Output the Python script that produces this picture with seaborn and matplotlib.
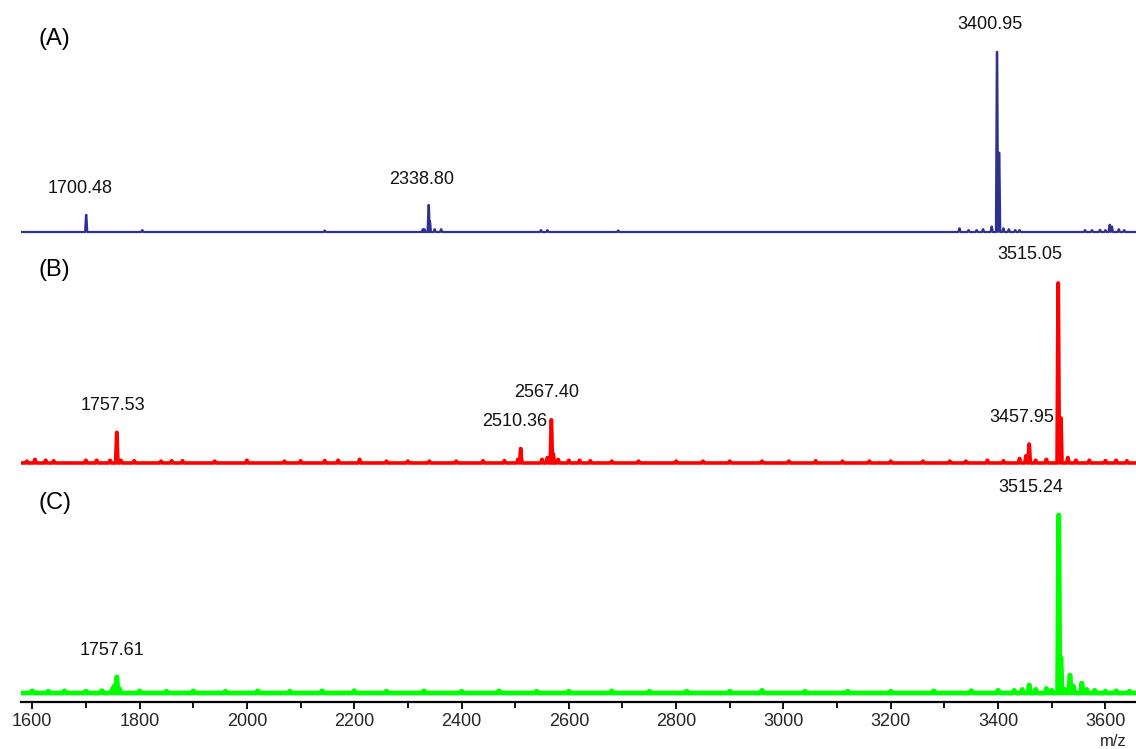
import numpy as np
import pandas as pd
import matplotlib
matplotlib.use("Agg")
import matplotlib.pyplot as plt
import seaborn as sns

# ---------------- data (m/z, relative intensity %) ----------------
a_mz = [1700.48, 1805, 2145, 2328, 2331, 2338.8, 2341, 2350, 2362, 2548, 2560, 2692,
        3328, 3345, 3360, 3372, 3388, 3398, 3402, 3410, 3420, 3432, 3440,
        3562, 3575, 3590, 3600, 3608, 3612, 3625, 3635]
a_int = [9.5, 1.0, 0.8, 1.5, 1.5, 15, 6, 1.5, 1.5, 1.0, 1.0, 0.8,
         2.0, 1.0, 1.0, 1.5, 3.0, 100, 44, 2.0, 1.5, 1.0, 1.0,
         1.0, 1.0, 1.2, 1.0, 4.0, 3.0, 1.5, 1.0]

b_mz = [1590, 1605, 1625, 1640, 1700, 1720, 1745, 1757.53, 1765, 1790, 1840, 1860, 1880,
        1940, 2000, 2070, 2100, 2145, 2170, 2210, 2260, 2300, 2340, 2390, 2440, 2480,
        2505, 2510.36, 2550, 2560, 2567.4, 2571, 2580, 2600, 2620, 2640, 2680, 2730,
        2800, 2850, 2900, 2960, 3010, 3060, 3110, 3160, 3200, 3260, 3310, 3340, 3380,
        3410, 3440, 3452, 3457.95, 3470, 3490, 3512, 3517, 3530, 3545, 3570, 3600,
        3620, 3640]
b_int = [1.0, 2.0, 1.5, 1.2, 1.5, 1.5, 1.5, 17, 1.5, 1.2, 1.0, 1.2, 1.2,
         1.0, 1.5, 1.0, 1.2, 1.3, 1.5, 2.0, 1.0, 1.0, 1.0, 1.0, 1.2, 1.3,
         2.0, 8.0, 2.0, 3.0, 24, 5.0, 2.0, 1.5, 1.5, 1.2, 1.0, 1.0,
         1.0, 1.0, 1.0, 1.0, 1.0, 1.2, 1.0, 1.0, 1.0, 1.0, 1.0, 1.0, 1.5,
         1.2, 2.5, 4.0, 10.5, 1.5, 2.0, 100, 25, 3.0, 1.5, 1.5, 1.3,
         1.5, 1.2]

c_mz = [1600, 1630, 1660, 1700, 1730, 1750, 1753, 1757.61, 1762, 1800, 1850, 1900,
        1960, 2020, 2080, 2140, 2200, 2260, 2330, 2400, 2470, 2540, 2600, 2680, 2750,
        2820, 2900, 2960, 3040, 3120, 3200, 3280, 3350, 3400, 3430, 3445, 3458, 3470,
        3490, 3500, 3513, 3517, 3525, 3534, 3540, 3556, 3565, 3580, 3600, 3620, 3645]
c_int = [1.2, 1.0, 1.2, 1.0, 1.3, 2.5, 4.0, 9.0, 2.5, 1.2, 1.0, 1.2,
         1.0, 1.2, 1.0, 1.2, 1.3, 1.0, 1.2, 1.0, 1.2, 1.0, 1.0, 1.2, 1.0,
         1.0, 1.0, 1.5, 1.0, 1.0, 1.0, 1.2, 1.3, 1.5, 1.5, 2.0, 4.5, 2.0,
         2.5, 1.5, 100, 20, 2.0, 10, 4.0, 5.5, 2.0, 1.5, 1.0, 1.2, 1.0]

panel_tags = ["(A)", "(B)", "(C)"]
a_labels = [("1700.48", 1689, 24.4), ("2338.80", 2326, 28.9), ("3400.95", 3385, 115)]
b_labels = [("1757.53", 1750, 32.2), ("2567.40", 2559, 39.4), ("2510.36", 2499, 22.8),
            ("3457.95", 3445, 25.0), ("3515.05", 3460, 115.6)]
c_labels = [("1757.61", 1749, 23.6), ("3515.24", 3460, 115.7)]

major_ticks = [1600, 1800, 2000, 2200, 2400, 2600, 2800, 3000, 3200, 3400, 3600]
minor_ticks = [1700, 1900, 2100, 2300, 2500, 2700, 2900, 3100, 3300, 3500]
xlabel = "m/z"

XMIN, XMAX = 1579, 3657


def profile(mz, inten, w):
    xs, ys = [XMIN], [0.0]
    for m, h in sorted(zip(mz, inten)):
        xs += [m - w, m - 0.15 * w, m + 0.15 * w, m + w]
        ys += [0.0, h, h, 0.0]
    xs.append(XMAX)
    ys.append(0.0)
    return pd.DataFrame({"mz": xs, "intensity": ys})


sns.set_theme(style="white")
plt.rcParams["font.family"] = ["Liberation Sans", "DejaVu Sans"]

W, H = 1136, 749
fig = plt.figure(figsize=(W / 100, H / 100), dpi=100)

left = 21 / W
width = 1 - left
# (top px, bottom px, ylim)
panels = [
    (8, 238, (-3.33, 124.4)),
    (240, 470, (-3.9, 123.9)),
    (470, 702, (-5.06, 125.3)),
]
data = [profile(a_mz, a_int, 2.0), profile(b_mz, b_int, 2.2), profile(c_mz, c_int, 2.2)]
colors = ["#2e3192", "#ff0000", "#00ff00"]
lws = [1.6, 2.6, 3.4]
labels = [a_labels, b_labels, c_labels]

for i, (tp, bp, yl) in enumerate(panels):
    ax = fig.add_axes([left, 1 - bp / H, width, (bp - tp) / H])
    sns.lineplot(data=data[i], x="mz", y="intensity", sort=False, estimator=None,
                 color=colors[i], lw=lws[i], ax=ax)
    ax.set_xlim(XMIN, XMAX)
    ax.set_ylim(*yl)
    ax.set_facecolor("none")
    for s in ["top", "right", "left", "bottom"]:
        ax.spines[s].set_visible(False)
    ax.set_yticks([])
    ax.set_ylabel("")
    ax.set_xlabel("")
    ax.text(1642, 107, panel_tags[i], fontsize=17, ha="center", va="center", color="black")
    for txt, x, y in labels[i]:
        ax.text(x, y, txt, fontsize=13, ha="center", va="center", color="#111111")
    if i < 2:
        ax.set_xticks([])
    else:
        ax.spines["bottom"].set_visible(True)
        ax.spines["bottom"].set_color("black")
        ax.spines["bottom"].set_linewidth(1.6)
        ax.set_xticks(major_ticks)
        ax.set_xticks(minor_ticks, minor=True)
        ax.tick_params(axis="x", which="major", direction="out", length=5, width=1.3,
                       color="black", labelsize=13, pad=3, bottom=True)
        ax.tick_params(axis="x", which="minor", direction="out", length=4, width=1.3,
                       color="black", bottom=True)
        ax.set_xticklabels([str(t) for t in major_ticks])

fig.text(1113 / W, 1 - 741 / H, xlabel, fontsize=12, ha="center", va="center")

fig.savefig("out.png", dpi=100)
